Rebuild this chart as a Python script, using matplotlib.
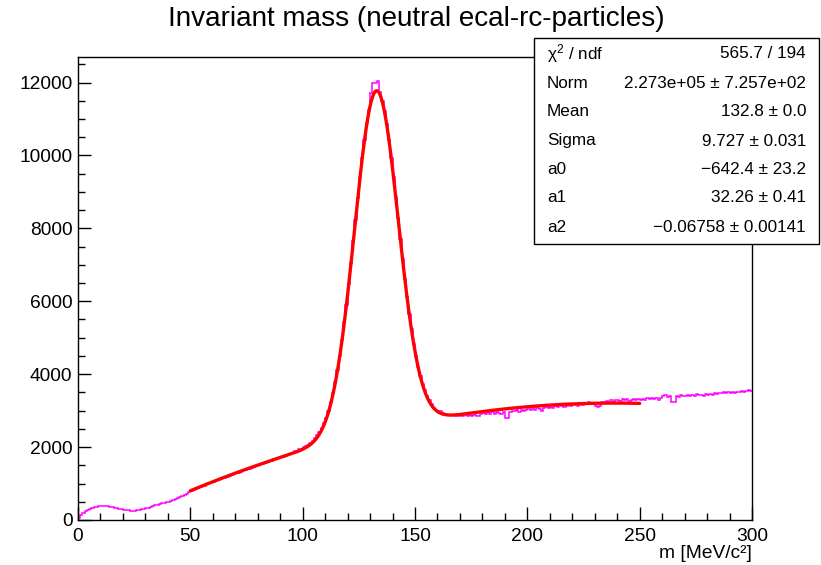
import numpy as np
import matplotlib
matplotlib.use("Agg")
import matplotlib.pyplot as plt
from matplotlib.patches import Rectangle
from matplotlib.ticker import MultipleLocator

plt.rcParams['font.family'] = ['Liberation Sans', 'DejaVu Sans']
plt.rcParams['mathtext.fontset'] = 'custom'
plt.rcParams['mathtext.rm'] = 'Liberation Sans'
plt.rcParams['mathtext.it'] = 'Liberation Sans:italic'

# ---------------- data ----------------
bin_edges = np.arange(0, 301, 1)  # 1 MeV bins, 0..300
counts = [
    60, 140, 200, 245, 285, 315, 335, 352, 365, 372,
    378, 380, 377, 372, 363, 350, 336, 322, 307, 293,
    281, 270, 262, 257, 255, 258, 264, 274, 290, 302,
    322, 338, 360, 372, 398, 412, 432, 455, 468, 492,
    503, 525, 548, 566, 598, 628, 655, 692, 718, 762,
    795, 825, 848, 872, 905, 930, 945, 985, 1005, 1030,
    1045, 1075, 1098, 1120, 1140, 1165, 1185, 1205, 1238, 1255,
    1290, 1302, 1330, 1360, 1375, 1390, 1410, 1430, 1460, 1478,
    1500, 1525, 1548, 1560, 1585, 1605, 1630, 1662, 1665, 1690,
    1720, 1738, 1765, 1790, 1805, 1850, 1895, 1880, 1935, 1960,
    1990, 2020, 2060, 2100, 2180, 2240, 2320, 2420, 2520, 2650,
    2810, 2990, 3230, 3480, 3790, 4120, 4500, 4950, 5420, 5900,
    6480, 7060, 7640, 8230, 8820, 9400, 9930, 10420, 10880, 11250,
    11700, 11980, 11990, 12050, 11740, 11500, 11220, 10850, 10420, 9930,
    9400, 8850, 8280, 7700, 7150, 6620, 6110, 5640, 5230, 4840,
    4490, 4200, 3950, 3740, 3560, 3410, 3290, 3180, 3080, 3020,
    2990, 2980, 2940, 2910, 2890, 2880, 2870, 2880, 2860, 2875,
    2860, 2850, 2880, 2840, 2870, 2860, 2890, 2850, 2860, 2900,
    2940, 2910, 2950, 2900, 2960, 2920, 2970, 2940, 2900, 2960,
    2800, 2810, 2960, 3000, 2980, 3010, 2960, 3030, 2990, 3020,
    3040, 3010, 3060, 3030, 3080, 3050, 3000, 3070, 3090, 3060,
    3110, 3080, 3130, 3100, 3150, 3120, 3090, 3140, 3170, 3130,
    3150, 3180, 3130, 3190, 3160, 3200, 3170, 3230, 3180, 3210,
    3120, 3110, 3130, 3240, 3210, 3260, 3230, 3290, 3250, 3280,
    3300, 3270, 3310, 3280, 3320, 3260, 3300, 3330, 3290, 3310,
    3290, 3330, 3300, 3340, 3310, 3360, 3320, 3340, 3280, 3350,
    3390, 3420, 3380, 3400, 3240, 3230, 3410, 3380, 3420, 3390,
    3410, 3440, 3400, 3430, 3390, 3450, 3420, 3440, 3400, 3460,
    3430, 3460, 3420, 3470, 3450, 3490, 3480, 3510, 3470, 3500,
    3480, 3510, 3490, 3520, 3500, 3530, 3510, 3540, 3560, 3550,
]

# fit: gaus + pol2, parameters from the stats box
fit_range = (50, 250)
p_norm, p_mean, p_sigma = 2.273e5, 132.8, 9.727
p_a0, p_a1, p_a2 = -642.4, 32.26, -0.06758

stat_names = ["χ$^{2}$ / ndf", "Norm", "Mean", "Sigma", "a0", "a1", "a2"]
stat_values = ["565.7 / 194", "2.273e+05 ± 7.257e+02", "132.8 ± 0.0",
               "9.727 ± 0.031", "−642.4 ± 23.2", "32.26 ± 0.41",
               "−0.06758 ± 0.00141"]

title = "Invariant mass (neutral ecal-rc-particles)"
xlabel = "m [MeV/c²]"

# ---------------- figure ----------------
W, H = 821, 565
fig = plt.figure(figsize=(W / 100, H / 100), dpi=100)
fig.patch.set_facecolor('white')

def fx(px):
    return px / W

def fy(py):
    return 1 - py / H

ax = fig.add_axes([fx(78), fy(520), fx(752) - fx(78), fy(57) - fy(520)])
ax.stairs(counts, bin_edges, color='#ff00ff', lw=1.1, baseline=None)

xf = np.linspace(fit_range[0], fit_range[1], 600)
yf = (p_norm / (np.sqrt(2 * np.pi) * p_sigma) * np.exp(-0.5 * ((xf - p_mean) / p_sigma) ** 2)
      + p_a0 + p_a1 * xf + p_a2 * xf ** 2)
ax.plot(xf, yf, color='#ff0000', lw=2.4, solid_capstyle='round')

ax.set_xlim(0, 300)
ax.set_ylim(0, 12700)
ax.xaxis.set_major_locator(MultipleLocator(50))
ax.xaxis.set_minor_locator(MultipleLocator(10))
ax.yaxis.set_major_locator(MultipleLocator(2000))
ax.yaxis.set_minor_locator(MultipleLocator(500))
ax.tick_params(which='both', direction='in', top=False, right=False,
               labelsize=13.8, width=1.0, color='black')
ax.tick_params(which='major', length=9.5)
ax.tick_params(which='minor', length=4.8)
ax.tick_params(axis='x', pad=6)
ax.tick_params(axis='y', pad=4)
for sp in ax.spines.values():
    sp.set_linewidth(1.0)

fig.text(fx(752), fy(558), xlabel, ha='right', va='baseline', fontsize=13.8)
fig.text(fx(416), fy(19), title, ha='center', va='center', fontsize=20.1)

# stats box
box = Rectangle((fx(534), fy(244)), fx(819) - fx(534), fy(38) - fy(244),
                transform=fig.transFigure, facecolor='white',
                edgecolor='black', lw=1.0, zorder=5)
fig.patches.append(box)
rows_y = [54, 83, 112, 141, 170, 198, 228]
for name, val, ry in zip(stat_names, stat_values, rows_y):
    fig.text(fx(547), fy(ry), name, ha='left', va='center', fontsize=12.3, zorder=6)
    fig.text(fx(806), fy(ry), val, ha='right', va='center', fontsize=12.3, zorder=6)

fig.savefig("out.png", dpi=100)
